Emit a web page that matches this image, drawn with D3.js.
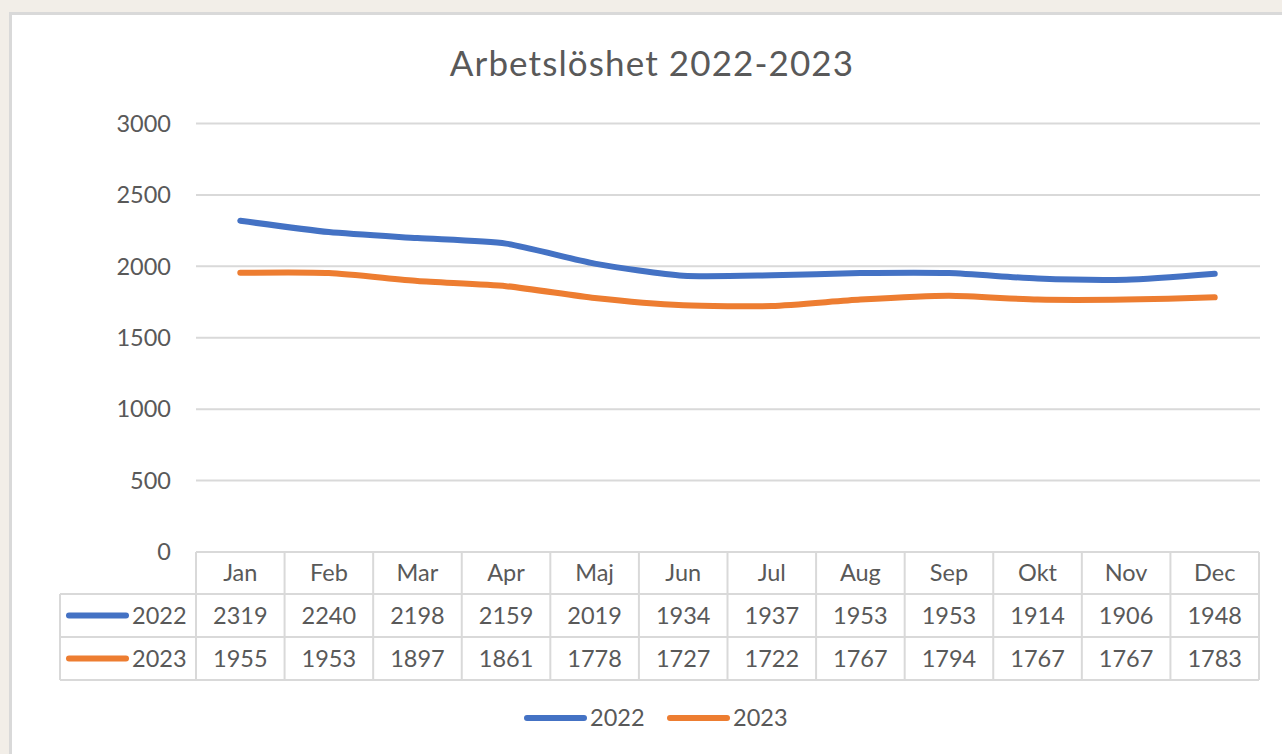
<!DOCTYPE html>
<html>
<head>
<meta charset="utf-8">
<script src="https://cdn.jsdelivr.net/npm/d3@7"></script>
<style>
  html, body { margin: 0; padding: 0; background: #f2eee8; }
  svg { display: block; }
</style>
</head>
<body>
<svg id="chart" width="1282" height="754"></svg>
<script>
// Data
const months = ['Jan', 'Feb', 'Mar', 'Apr', 'Maj', 'Jun', 'Jul', 'Aug', 'Sep', 'Okt', 'Nov', 'Dec'];
const values2022 = [2319, 2240, 2198, 2159, 2019, 1934, 1937, 1953, 1953, 1914, 1906, 1948];
const values2023 = [1955, 1953, 1897, 1861, 1778, 1727, 1722, 1767, 1794, 1767, 1767, 1783];
const seriesNames = ['2022', '2023'];
const yTicks = [0, 500, 1000, 1500, 2000, 2500, 3000];

const colors = { '2022': '#4472c4', '2023': '#ed7d31' };
const textColor = '#595959';
const gridColor = '#d9d9d9';
const font = 'Lato, "Open Sans", sans-serif';
const labelSize = '23.5px';

const svg = d3.select('#chart');

// panel
svg.append('rect')
    .attr('x', 10.5).attr('y', 13.5).attr('width', 1290).attr('height', 760)
    .attr('fill', '#fff').attr('stroke', '#d9d9d9').attr('stroke-width', 3);

// scales
const x = d3.scaleBand().domain(months).range([196, 1259]);
const y = d3.scaleLinear().domain([0, 3000]).range([552, 123.5]);

// title
svg.append('text')
    .attr('x', 652).attr('y', 76)
    .attr('text-anchor', 'middle')
    .attr('font-family', font).attr('font-size', '35px')
    .attr('letter-spacing', '1.1px')
    .attr('fill', textColor)
    .text('Arbetslöshet 2022-2023');

// grid lines
svg.append('g').selectAll('line')
    .data(yTicks.filter(d => d > 0))
    .join('line')
    .attr('x1', 196).attr('x2', 1260)
    .attr('y1', d => y(d)).attr('y2', d => y(d))
    .attr('stroke', gridColor).attr('stroke-width', 2);

// y labels
svg.append('g').selectAll('text')
    .data(yTicks)
    .join('text')
    .attr('x', 171).attr('y', d => y(d))
    .attr('dy', '0.35em')
    .attr('text-anchor', 'end')
    .attr('font-family', font).attr('font-size', labelSize)
    .attr('fill', textColor)
    .text(d => d);

// lines (Excel-style smoothing, a bit tighter than catmull-rom)
const line = d3.line()
    .curve(d3.curveCardinal.tension(0.35))
    .x((d, i) => x(months[i]) + x.bandwidth() / 2)
    .y(d => y(d));

const seriesData = [values2022, values2023];
seriesData.forEach((vals, i) => {
    svg.append('path')
        .datum(vals)
        .attr('fill', 'none')
        .attr('stroke', colors[seriesNames[i]])
        .attr('stroke-width', 6)
        .attr('stroke-linecap', 'round')
        .attr('stroke-linejoin', 'round')
        .attr('d', line);
});

// data table
const rowTop = [552, 594, 637];
const rowH = [42, 43, 43];
const tableBottom = 680;
const legendLeft = 60;
const tg = svg.append('g');
const border = g => g.attr('stroke', gridColor).attr('stroke-width', 2).attr('fill', 'none');

// horizontal lines
tg.append('line').attr('x1', x.range()[0]).attr('x2', x.range()[1])
    .attr('y1', rowTop[0]).attr('y2', rowTop[0]).call(border);
[rowTop[1], rowTop[2], tableBottom].forEach(yy => {
    tg.append('line').attr('x1', legendLeft).attr('x2', x.range()[1])
        .attr('y1', yy).attr('y2', yy).call(border);
});
// vertical lines
months.forEach(m => {
    tg.append('line').attr('x1', x(m)).attr('x2', x(m))
        .attr('y1', rowTop[0]).attr('y2', tableBottom).call(border);
});
tg.append('line').attr('x1', x.range()[1]).attr('x2', x.range()[1])
    .attr('y1', rowTop[0]).attr('y2', tableBottom).call(border);
tg.append('line').attr('x1', legendLeft).attr('x2', legendLeft)
    .attr('y1', rowTop[1]).attr('y2', tableBottom).call(border);

// header
tg.selectAll('text.month')
    .data(months)
    .join('text')
    .attr('class', 'month')
    .attr('x', d => x(d) + x.bandwidth() / 2)
    .attr('y', rowTop[0] + rowH[0] / 2)
    .attr('dy', '0.35em')
    .attr('text-anchor', 'middle')
    .attr('font-family', font).attr('font-size', labelSize)
    .attr('fill', textColor)
    .text(d => d);

// rows
seriesData.forEach((vals, i) => {
    const cy = rowTop[i + 1] + rowH[i + 1] / 2;
    tg.append('g').selectAll('text')
        .data(vals)
        .join('text')
        .attr('x', (d, j) => x(months[j]) + x.bandwidth() / 2)
        .attr('y', cy)
        .attr('dy', '0.35em')
        .attr('text-anchor', 'middle')
        .attr('font-family', font).attr('font-size', labelSize)
        .attr('fill', textColor)
        .text(d => d);
    // legend key
    tg.append('line')
        .attr('x1', 69).attr('x2', 126)
        .attr('y1', cy).attr('y2', cy)
        .attr('stroke', colors[seriesNames[i]]).attr('stroke-width', 6)
        .attr('stroke-linecap', 'round');
    tg.append('text')
        .attr('x', 132).attr('y', cy)
        .attr('dy', '0.35em')
        .attr('font-family', font).attr('font-size', labelSize)
        .attr('fill', textColor)
        .text(seriesNames[i]);
});

// bottom legend
const legendX = [527, 670];
seriesNames.forEach((name, i) => {
    const lg = svg.append('g').attr('transform', `translate(${legendX[i]},718)`);
    lg.append('line')
        .attr('x1', 0).attr('x2', 57)
        .attr('stroke', colors[name]).attr('stroke-width', 6)
        .attr('stroke-linecap', 'round');
    lg.append('text')
        .attr('x', 63).attr('dy', '0.35em')
        .attr('font-family', font).attr('font-size', labelSize)
        .attr('fill', textColor)
        .text(name);
});
</script>
</body>
</html>
